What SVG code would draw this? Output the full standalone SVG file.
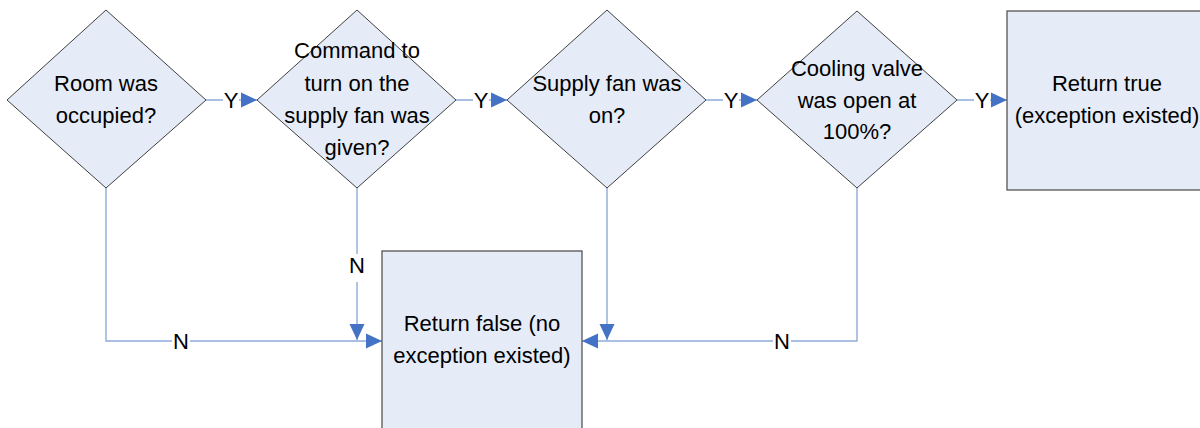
<svg xmlns="http://www.w3.org/2000/svg" width="1200" height="428" viewBox="0 0 1200 428">
<style>
.shape{fill:#E6ECF7;stroke:#404040;stroke-width:1}
.box{fill:#E6ECF7;stroke:#555;stroke-width:1.3}
.t{font-family:"Liberation Sans",Arial,sans-serif;font-size:22px;fill:#000;text-anchor:middle}
.c{fill:none;stroke:#8EAADB;stroke-width:1.4}
.lbl{font-family:"Liberation Sans",Arial,sans-serif;font-size:22px;fill:#000;text-anchor:middle}
.bg{fill:#fff}
</style>
<defs>
<marker id="ah" markerWidth="16" markerHeight="16" refX="16" refY="8" orient="auto" markerUnits="userSpaceOnUse">
<path d="M0,0.5 L16,8 L0,15.5 Z" fill="#4472C4"/>
</marker>
</defs>
<rect width="1200" height="428" fill="#fff"/>
<g id="connectors">
<path class="c" d="M206,100 H257" marker-end="url(#ah)"/>
<path class="c" d="M456,100 H507" marker-end="url(#ah)"/>
<path class="c" d="M706,100 H757" marker-end="url(#ah)"/>
<path class="c" d="M957,100 H1007" marker-end="url(#ah)"/>
<path class="c" d="M106,188 V341 H382" marker-end="url(#ah)"/>
<path class="c" d="M357,188 V340" marker-end="url(#ah)"/>
<path class="c" d="M607,188 V340" marker-end="url(#ah)"/>
<path class="c" d="M857,188 V341 H582" marker-end="url(#ah)"/>
<rect class="bg" x="223" y="90" width="16" height="20"/>
<text class="lbl" x="231" y="108">Y</text>
<rect class="bg" x="473" y="90" width="16" height="20"/>
<text class="lbl" x="481" y="108">Y</text>
<rect class="bg" x="723" y="90" width="16" height="20"/>
<text class="lbl" x="731" y="108">Y</text>
<rect class="bg" x="974" y="90" width="16" height="20"/>
<text class="lbl" x="982" y="108">Y</text>
<rect class="bg" x="172" y="331" width="18" height="20"/>
<text class="lbl" x="181" y="349">N</text>
<rect class="bg" x="348" y="254" width="18" height="28"/>
<text class="lbl" x="357" y="273">N</text>
<rect class="bg" x="773" y="331" width="18" height="20"/>
<text class="lbl" x="782" y="349">N</text>
</g>
<g id="d1">
<polygon class="shape" points="106,10 206,100 106,188 7,100"/>
<text class="t" x="106" y="91">Room was</text>
<text class="t" x="106" y="123">occupied?</text>
</g>
<g id="d2">
<polygon class="shape" points="357,10 456,100 357,188 257,100"/>
<text class="t" x="357" y="58">Command to</text>
<text class="t" x="357" y="91">turn on the</text>
<text class="t" x="357" y="123">supply fan was</text>
<text class="t" x="357" y="155">given?</text>
</g>
<g id="d3">
<polygon class="shape" points="607,10 706,100 607,188 507,100"/>
<text class="t" x="607" y="91">Supply fan was</text>
<text class="t" x="607" y="123">on?</text>
</g>
<g id="d4">
<polygon class="shape" points="857,11 957,100 857,188 757,100"/>
<text class="t" x="857" y="76">Cooling valve</text>
<text class="t" x="857" y="108">was open at</text>
<text class="t" x="857" y="139">100%?</text>
</g>
<g id="rtrue">
<rect class="box" x="1007" y="11" width="200" height="179"/>
<text class="t" x="1107" y="91">Return true</text>
<text class="t" x="1107" y="123">(exception existed)</text>
</g>
<g id="rfalse">
<rect class="box" x="382" y="251" width="200" height="190"/>
<text class="t" x="482" y="331">Return false (no</text>
<text class="t" x="482" y="363">exception existed)</text>
</g>
</svg>
